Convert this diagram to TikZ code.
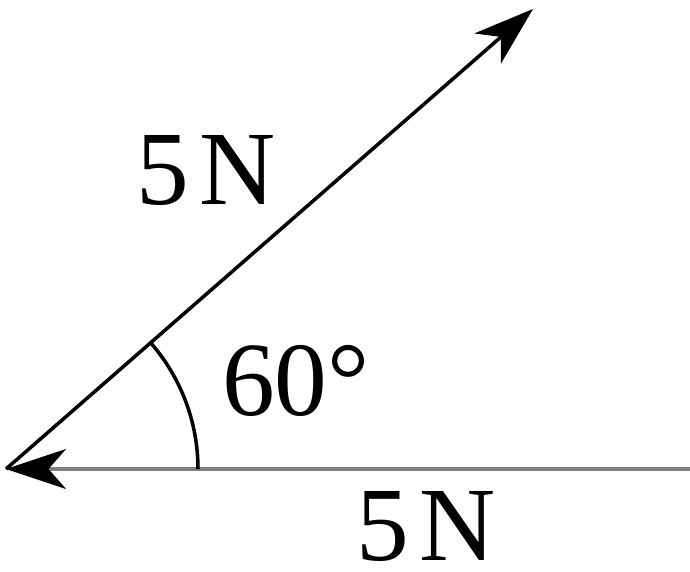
\documentclass[tikz,border=0pt]{standalone}
\usepackage{fontspec}
\setmainfont{Liberation Serif}
\usetikzlibrary{arrows.meta}
\tikzset{
	force/.style={line width=2pt,-{Stealth[length=1.2cm,width=0.8cm,inset=0.35cm,color=black]}},
	lbl/.style={font=\fontsize{60}{64}\selectfont,inner sep=0pt}
}
\begin{document}
\begin{tikzpicture}
			\useasboundingbox (0,0) rectangle (13.8,11.42);
			\coordinate (O) at (0.12,2.04);
			\coordinate (E) at (13.8,2.04);
			\coordinate (A) at (10.66,11.24);
			\draw[force,black!50] (E) -- (O);
			\draw[force] (O) -- (A);
			\draw[line width=2pt] (O) ++(0:3.84) arc[start angle=0,end angle=41.2,radius=3.84];
			\node[lbl] (f1) at (4.12,8.02) {5\hspace{0.1em}N};
			\node[lbl] (ang) at (5.92,3.8) {60°};
			\node[lbl] (f2) at (8.52,0.9) {5\hspace{0.1em}N};
		\end{tikzpicture}
\end{document}
